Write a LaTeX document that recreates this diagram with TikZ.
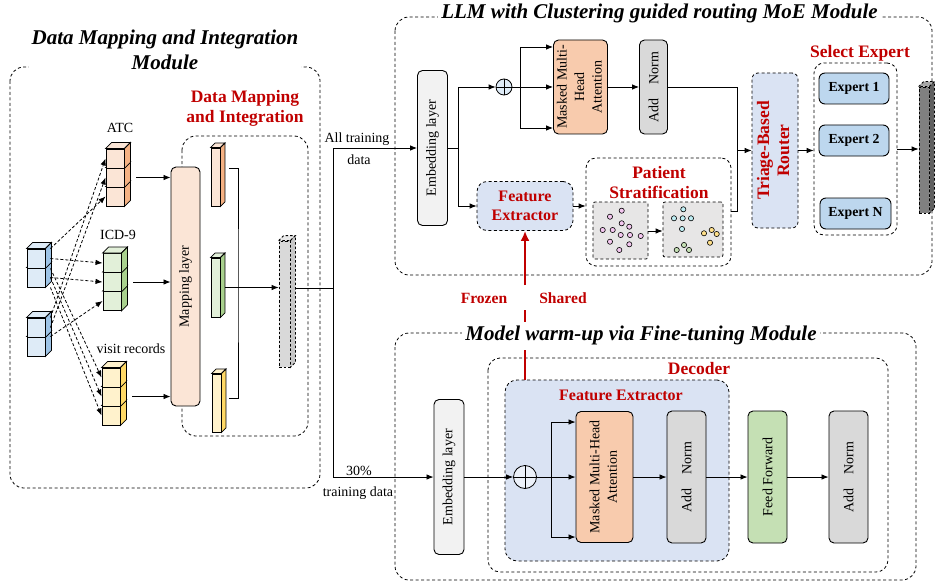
\documentclass[tikz,border=0pt]{standalone}
\usepackage{fontspec}
\setmainfont{Liberation Serif}
\usepackage{graphicx}
\usepackage{tikz}
\usetikzlibrary{arrows,arrows.meta,calc}

\definecolor{labred}{HTML}{C00000}
\definecolor{peach}{HTML}{FBE5D6}
\definecolor{peachside}{HTML}{F4B183}
\definecolor{attnfill}{HTML}{F8CBAD}
\definecolor{normgray}{HTML}{D9D9D9}
\definecolor{embgray}{HTML}{F2F2F2}
\definecolor{fxblue}{HTML}{DAE3F3}
\definecolor{expblue}{HTML}{BDD7EE}
\definecolor{ffgreen}{HTML}{C5E0B4}
\definecolor{grfront}{HTML}{E2F0D9}
\definecolor{grside}{HTML}{A9D18E}
\definecolor{yefront}{HTML}{FFF2CC}
\definecolor{yeside}{HTML}{FFD966}
\definecolor{blfront}{HTML}{DEEBF7}
\definecolor{blside}{HTML}{9DC3E6}
\definecolor{clgray}{HTML}{E7E6E6}
\definecolor{bargray}{HTML}{808080}
\definecolor{bardark}{HTML}{5F5F5F}
\definecolor{bartop}{HTML}{A6A6A6}
\definecolor{dotpink}{HTML}{F4C7F0}
\definecolor{dotcyan}{HTML}{BFEFF5}
\definecolor{dotyel}{HTML}{FFE08A}
\definecolor{dotgrn}{HTML}{C5E0B4}

% front node #2, depth #3, top colour #4, side colour #5
\newcommand{\prism}[5][]{%
  \draw[#1, fill=#4] (#2.north west) -- ++(#3,-#3) -- ($(#2.north east)+(#3,-#3)$) -- (#2.north east) -- cycle;
  \draw[#1, fill=#5] (#2.north east) -- ($(#2.north east)+(#3,-#3)$) -- ($(#2.south east)+(#3,-#3)$) -- (#2.south east) -- cycle;
}

\begin{document}
\begin{tikzpicture}[x=1pt,y=-1pt,>={Latex[length=7pt,width=5.5pt]},line width=0.8pt]
\tikzstyle{every node}=[inner sep=0pt, font=\fontsize{14}{17.5}\selectfont]
\tikzstyle{module}=[dash pattern=on 3pt off 2.5pt, rounded corners=14pt]
\tikzstyle{dbox}=[draw, dash pattern=on 3pt off 2.5pt, rounded corners=8pt]
\tikzstyle{block}=[draw, rounded corners=5pt, line width=0.9pt]
\tikzstyle{cube}=[draw, minimum width=18pt, minimum height=19pt, line width=0.9pt]
\tikzstyle{slab}=[draw, minimum width=9pt, line width=0.9pt]
\tikzstyle{ttl}=[fill=white, inner sep=3pt, align=center, font=\fontsize{21}{25}\selectfont\bfseries\itshape]
\tikzstyle{redlab}=[text=labred, align=center, font=\fontsize{17.5}{20}\selectfont\bfseries]
\tikzstyle{redsm}=[text=labred, align=center, font=\fontsize{16}{19}\selectfont\bfseries]
\tikzstyle{expert}=[block, fill=expblue, rounded corners=6pt, minimum width=70pt, minimum height=31pt, font=\fontsize{13.8}{16}\selectfont\bfseries]
\tikzstyle{link}=[->]
\tikzstyle{dlink}=[->, dash pattern=on 3pt off 2pt]
\tikzstyle{dot}=[draw, line width=0.6pt]
\tikzstyle{frozen}=[labred, line width=2.4pt]
\def \dd {6}

\useasboundingbox (0,0) rectangle (939,583);

% ---------------- data mapping and integration
\draw[module] (10,67) rectangle (320,488);
\node[ttl] (ttl-dmi) at (165,49.5) {Data Mapping and Integration\\Module};
\draw[module] (182,136) rectangle (308,436);
\node[redlab] (lab-dmi) at (245,108) {Data Mapping\\and Integration};

\foreach \i/\yy in {2/277.5,1/258.5} {
  \node[cube, fill=blfront] (bla\i) at (36,\yy) {};
  \prism{bla\i}{\dd}{blfront}{blside}
}
\foreach \i/\yy in {2/346.5,1/327.5} {
  \node[cube, fill=blfront] (blb\i) at (36,\yy) {};
  \prism{blb\i}{\dd}{blfront}{blside}
}
\foreach \i/\yy in {3/196.5,2/177.5,1/158.5} {
  \node[cube, fill=peach] (atc\i) at (115,\yy) {};
  \prism{atc\i}{\dd}{peach}{peachside}
}
\foreach \i/\yy in {3/301,2/282,1/263} {
  \node[cube, fill=grfront] (icd\i) at (112,\yy) {};
  \prism{icd\i}{\dd}{grfront}{grside}
}
\foreach \i/\yy in {3/415.5,2/396.5,1/377.5} {
  \node[cube, fill=yefront] (vr\i) at (111,\yy) {};
  \prism{vr\i}{\dd}{yefront}{yeside}
}
\node (lab-atc) at (120,128) {ATC};
\node (lab-icd) at (118,235) {ICD-9};
\node (lab-vr)  at (131,349) {visit records};

\draw[dlink] ([xshift=5pt]blb1.north east) -- (atc1.west);
\draw[dlink] ([xshift=5pt]blb1.east)       -- (atc2.west);
\draw[dlink] ([xshift=5pt]bla1.north east) -- (atc3.west);
\draw[dlink] ([xshift=5pt]bla1.east)       -- (icd1.west);
\draw[dlink] ([xshift=5pt]bla2.east)       -- (icd2.west);
\draw[dlink] ([xshift=5pt]blb2.north east) -- (icd3.west);
\draw[dlink] ([xshift=5pt]bla1.south east) -- (vr1.west);
\draw[dlink] ([xshift=5pt]bla2.east)       -- (vr2.west);
\draw[dlink] ([xshift=5pt]bla2.south east) -- (vr3.west);

\node[block, fill=peach, minimum width=29pt, minimum height=239pt] (map) at (185.5,286.5) {\rotatebox{90}{Mapping layer}};
\draw[link] ([xshift=12pt]atc2.east) -- (atc2.east -| map.west);
\draw[link] ([xshift=12pt]icd2.east) -- (icd2.east -| map.west);
\draw[link] ([xshift=12pt]vr2.east)  -- (vr2.east -| map.west);

\node[slab, fill=peach, minimum height=58pt]   (bor) at (215.5,177)   {};
\prism{bor}{4.5}{peach}{peachside}
\node[slab, fill=grfront, minimum height=59pt] (bgr) at (215.5,287.5) {};
\prism{bgr}{4.5}{grfront}{grside}
\node[slab, fill=yefront, minimum height=58pt] (bye) at (216.5,403)   {};
\prism{bye}{4.5}{yefront}{yeside}

\node[draw, dash pattern=on 2.5pt off 2pt, fill=normgray, minimum width=11pt, minimum height=126pt] (cyl) at (284.5,304) {};
\prism[dash pattern=on 2.5pt off 2pt]{cyl}{5}{normgray!60}{gray!45}

\coordinate (bo) at (229,168);
\coordinate (by) at (229,398);
\coordinate (brk) at (238,288);
\draw (bo) -| (brk) |- (by);
\draw[link] ([xshift=5pt]bgr.east) -- (bgr.east -| cyl.west);

\coordinate (split) at (333,288);
\draw (cyl.east |- split) ++(5,0) -- (split);

% ---------------- clustering guided routing MoE
\draw[module] (395,17) rectangle (932,275);

\node[block, fill=embgray, minimum width=30pt, minimum height=155pt] (emb1) at (432.5,148) {\rotatebox{90}{Embedding layer}};
\draw[link] (split) |- (emb1);
\node (lab-all)  at (357,139) {All training};
\node (lab-data) at (359,160) {data};

\coordinate (br1) at (458,148);
\draw (emb1.east) -- (br1);
\node[circle, draw, fill=blfront, minimum size=16pt] (plus1) at (504,87) {};
\draw (plus1.north) -- (plus1.south) (plus1.west) -- (plus1.east);
\draw[link] (br1) |- (plus1);

\node[block, fill=attnfill, minimum width=54pt, minimum height=94pt] (attn1) at (580.5,87)
  {\rotatebox{90}{\begin{tabular}{@{}c@{}}Masked Multi-\\Head\\Attention\end{tabular}}};
\coordinate (br2) at (520,87);
\draw[link] (plus1) -- (attn1);
\draw[link] (br2) |- (attn1.west |- 0,47);
\draw[link] (br2) |- (attn1.west |- 0,128);

\node[block, fill=normgray, minimum width=28pt, minimum height=94pt] (norm1) at (653.5,87) {\rotatebox{90}{Add\hspace{1em}Norm}};
\draw[link] (attn1) -- (norm1);

\node[dbox, redsm, fill=fxblue, rounded corners=10pt, minimum width=96pt, minimum height=49pt] (fx1) at (525,206) {Feature\\Extractor};
\draw[link] (br1) |- (fx1);

\node[dbox, rounded corners=10pt, minimum width=145pt, minimum height=108pt] (strat) at (658.5,212) {};
\node[redlab] (lab-pat) at (659,183) {Patient\\Stratification};
\draw[link] (fx1.east) -- (fx1.east -| strat.west);

\node[dbox, fill=clgray, rounded corners=2pt, minimum width=55pt, minimum height=57pt] (cl1) at (620.5,230.5) {};
\node[dbox, fill=clgray, rounded corners=2pt, minimum width=60pt, minimum height=55pt] (cl2) at (693,229.5) {};
\draw[link] (cl1.east |- 0,231) -- (cl2.west |- 0,231);
\foreach \px/\py in {610/216.7,621.7/210.7,602.7/230,612.7/230,621.7/223.3,629.3/226.7,
                     620.7/235,630/235,640.7/236,610/241.7,629.3/244.3,619.3/250}
  \draw[dot, fill=dotpink] (\px,\py) circle (2.6pt);
\foreach \px/\py in {683.3/209.3,674/218.3,682.7/218.3,691/218.3,682/229}
  \draw[dot, fill=dotcyan] (\px,\py) circle (2.6pt);
\foreach \px/\py in {704/233.3,711.7/230,716.7/234,710/242.7}
  \draw[dot, fill=dotyel] (\px,\py) circle (2.6pt);
\foreach \px/\py in {676.7/250,684/245,689/250}
  \draw[dot, fill=dotgrn] (\px,\py) circle (2.6pt);

\node[dbox, redlab, fill=fxblue, rounded corners=6pt, minimum width=46pt, minimum height=155pt] (router) at (775,150.5)
  {\rotatebox{90}{\begin{tabular}{@{}c@{}}Triage-Based\\Router\end{tabular}}};
\coordinate (mrg) at (737,150.5);
\draw (norm1.east) -| (mrg);
\draw (strat.east |- 0,211) -| (mrg);
\draw[link] (mrg) -- (router);

\node[dbox, rounded corners=10pt, minimum width=83pt, minimum height=172pt] (sel) at (855.5,149) {};
\node[redlab] (lab-sel) at (860,53) {Select Expert};
\node[expert] (exp1) at (854,88.5)  {Expert 1};
\node[expert] (exp2) at (854,140.5) {Expert 2};
\node[expert, minimum width=71pt] (expn) at (855.5,213.5) {Expert N};
\draw[link] (router.east) -- (router.east -| sel.west);

\node[draw, dash pattern=on 2.5pt off 2pt, fill=bargray, minimum width=10pt, minimum height=126pt] (outbar) at (924,150) {};
\prism[dash pattern=on 2.5pt off 2pt]{outbar}{5}{bartop}{bardark}
\draw[link] (sel.east) -- (sel.east -| outbar.west);

% ---------------- warm-up via fine-tuning
\draw[module] (395,333) rectangle (916,580);
\draw[module, rounded corners=12pt] (488,358) rectangle (888,572);
\node[redlab] (lab-dec) at (699,369) {Decoder};
\node[dbox, fill=fxblue, rounded corners=12pt, minimum width=224pt, minimum height=181pt] (fx2) at (617,470.5) {};
\node[redsm] (lab-fx2) at (621,395) {Feature Extractor};

\node[block, fill=embgray, minimum width=30pt, minimum height=155pt] (emb2) at (449,477) {\rotatebox{90}{Embedding layer}};
\draw[link] (split) |- (emb2);
\node (lab-pct) at (359,471) {30\%};
\node (lab-td)  at (358,493) {training data};

\node[circle, draw, fill=fxblue!50!white, minimum size=23pt] (plus2) at (525,477) {};
\draw (plus2.north) -- (plus2.south) (plus2.west) -- (plus2.east);
\draw[link] (emb2) -- (plus2);

\node[block, fill=attnfill, minimum width=57pt, minimum height=131pt] (attn2) at (604.5,477)
  {\rotatebox{90}{\begin{tabular}{@{}c@{}}Masked Multi-Head\\Attention\end{tabular}}};
\coordinate (br3) at (551,477);
\draw[link] (plus2) -- (attn2);
\draw[link] (br3) |- (attn2.west |- 0,422);
\draw[link] (br3) |- (attn2.west |- 0,537);

\node[block, fill=normgray, minimum width=39pt, minimum height=132pt] (norm2) at (686.5,477) {\rotatebox{90}{Add\hspace{1em}Norm}};
\node[block, fill=ffgreen,  minimum width=39pt, minimum height=132pt] (ff)    at (767.5,477) {\rotatebox{90}{Feed Forward}};
\node[block, fill=normgray, minimum width=39pt, minimum height=132pt] (norm3) at (848.5,477) {\rotatebox{90}{Add\hspace{1em}Norm}};
\draw[link] (attn2) -- (norm2);
\draw[link] (norm2) -- (ff);
\draw[link] (ff) -- (norm3);

% frozen / shared feature extractor
\coordinate (frz) at (525,285);
\draw[frozen, dash pattern=on 30pt off 22pt on 18pt off 25pt] (fx2.north -| frz) -- (frz);
\draw[frozen, -{Latex[length=10pt,width=9pt]}] (frz) -- (fx1.south -| frz);
\node[redsm, font=\fontsize{15.6}{18}\selectfont\bfseries] (lab-frz) at (484,298) {Frozen};
\node[redsm, font=\fontsize{15.6}{18}\selectfont\bfseries] (lab-shr) at (563,298) {Shared};

\node[ttl] (ttl-moe) at (659.5,13) {LLM with Clustering guided routing MoE Module};
\node[ttl] (ttl-ft)  at (641,335) {Model warm-up via Fine-tuning Module};
\end{tikzpicture}
\end{document}
